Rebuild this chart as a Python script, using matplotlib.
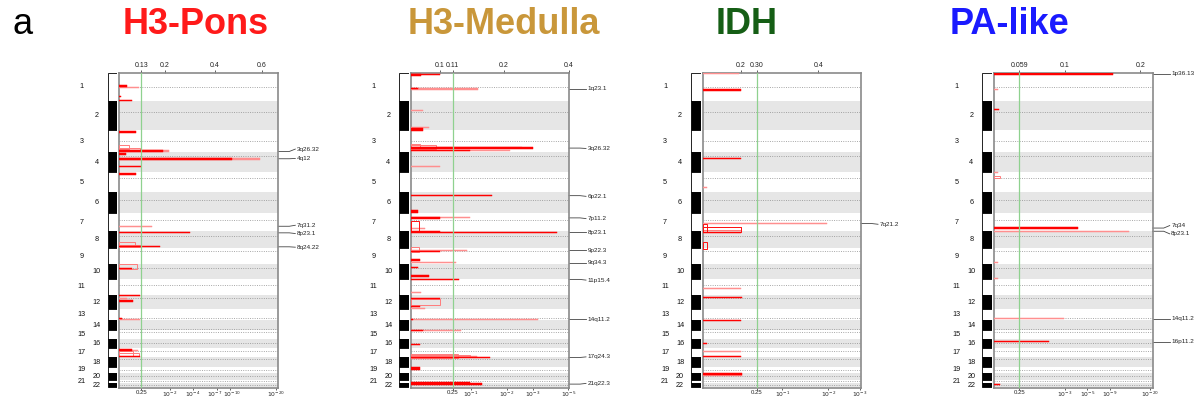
import matplotlib
matplotlib.use('Agg')
import matplotlib.pyplot as plt
from matplotlib.transforms import blended_transform_factory, ScaledTranslation

plt.rcParams['font.family'] = ['Liberation Sans', 'DejaVu Sans']

W, H = 1194, 400

# ---------------- data ----------------
chrom_names = [str(i) for i in range(1, 23)]
chrom_sizes = [28, 29.5, 22.5, 20, 20, 20.5, 18.5, 17, 15.7, 15, 16, 14.7,
               11, 9.3, 9, 9.3, 9.4, 10, 5.3, 7, 3, 5]
centromere_frac = [0.50, 0.38, 0.48, 0.18, 0.27, 0.35, 0.38, 0.26, 0.19, 0.29,
                   0.39, 0.20, 0.78, 0.89, 0.30, 0.46, 0.36, 0.13, 0.50, 0.52,
                   0.55, 0.40]

panel_titles = ['H3-Pons', 'H3-Medulla', 'IDH', 'PA-like']
panel_title_colors = ['#ff1a1a', '#c9973a', '#155e15', '#1a1aff']

# score segments: (genome position, band height, score on display scale 0-1, style)
# style: r = strong red, l = light red, o = light outline box, R = red outline box
pons_segments = [
    (14.6, 1.0, 0.126, 'l'), (13.3, 1.2, 0.046, 'r'), (24.0, 1.0, 0.010, 'r'),
    (28.0, 1.2, 0.078, 'r'), (59.6, 1.4, 0.105, 'r'),
    (75.0, 4.0, 0.060, 'o'), (76.6, 2.6, 0.130, 'o'),
    (78.8, 1.6, 0.314, 'l'), (78.9, 2.2, 0.277, 'r'), (81.6, 1.4, 0.040, 'r'),
    (86.6, 1.4, 0.885, 'l'), (86.6, 1.6, 0.707, 'r'),
    (94.0, 1.4, 0.134, 'r'), (101.6, 1.4, 0.105, 'r'),
    (154.0, 1.0, 0.204, 'l'), (160.6, 1.2, 0.445, 'r'),
    (171.5, 4.0, 0.100, 'o'), (173.5, 2.4, 0.130, 'o'), (174.6, 1.2, 0.256, 'r'),
    (194.5, 5.7, 0.109, 'o'), (196.6, 1.2, 0.078, 'r'),
    (223.3, 1.4, 0.130, 'r'), (226.3, 1.0, 0.046, 'l'), (229.0, 1.2, 0.088, 'r'),
    (246.6, 1.5, 0.020, 'r'), (248.0, 1.0, 0.130, 'l'),
    (278.0, 1.2, 0.078, 'r'), (279.0, 1.0, 0.120, 'l'),
    (281.5, 5.0, 0.088, 'o'), (283.0, 3.0, 0.126, 'o'), (284.6, 1.2, 0.130, 'r'),
]
medulla_segments = [
    (1.8, 1.4, 0.184, 'r'), (2.5, 2.5, 0.063, 'r'),
    (16.3, 1.2, 0.426, 'l'), (16.0, 1.6, 0.042, 'r'),
    (38.0, 1.2, 0.078, 'l'),
    (55.0, 1.0, 0.116, 'l'), (57.3, 3.0, 0.078, 'r'),
    (73.8, 5.0, 0.060, 'o'), (74.6, 3.4, 0.160, 'o'), (75.0, 1.2, 0.700, 'l'),
    (75.6, 1.4, 0.774, 'r'), (77.8, 1.2, 0.627, 'l'), (78.0, 1.4, 0.373, 'r'),
    (94.0, 1.2, 0.184, 'l'),
    (123.3, 1.2, 0.515, 'r'),
    (139.0, 3.0, 0.042, 'r'),
    (145.0, 1.0, 0.373, 'l'), (145.6, 1.4, 0.184, 'r'),
    (154.0, 10.0, 0.050, 'R'), (156.6, 1.0, 0.090, 'l'),
    (159.0, 1.2, 0.184, 'r'), (160.0, 1.2, 0.926, 'r'),
    (177.5, 5.0, 0.050, 'o'), (178.0, 1.0, 0.357, 'l'), (179.6, 1.2, 0.184, 'r'),
    (188.1, 1.7, 0.060, 'r'), (190.6, 1.0, 0.283, 'l'), (195.6, 1.2, 0.042, 'r'),
    (204.0, 1.5, 0.116, 'r'), (207.3, 1.2, 0.304, 'r'),
    (220.6, 1.0, 0.063, 'l'),
    (226.6, 1.2, 0.184, 'r'), (230.0, 6.5, 0.184, 'o'), (234.6, 1.2, 0.060, 'r'),
    (236.6, 1.0, 0.090, 'l'),
    (247.3, 1.3, 0.806, 'l'), (247.3, 1.3, 0.010, 'r'),
    (258.3, 1.2, 0.315, 'l'), (258.3, 1.2, 0.078, 'r'),
    (272.3, 1.2, 0.060, 'r'),
    (284.0, 3.3, 0.300, 'o'), (284.3, 2.0, 0.373, 'o'), (285.0, 1.0, 0.420, 'l'),
    (285.6, 1.2, 0.500, 'r'), (287.0, 1.0, 0.260, 'l'),
    (296.8, 2.4, 0.060, 'r'),
    (310.6, 1.2, 0.373, 'r'), (312.3, 1.5, 0.447, 'r'),
]
idh_segments = [
    (0.6, 2.0, 0.231, 'l'), (17.3, 1.2, 0.242, 'r'), (85.6, 1.0, 0.242, 'r'),
    (115.0, 1.0, 0.030, 'l'),
    (151.3, 1.0, 0.783, 'l'), (155.7, 8.7, 0.025, 'R'), (155.9, 2.7, 0.242, 'o'),
    (157.3, 5.4, 0.242, 'R'), (160.0, 1.2, 0.242, 'r'),
    (173.3, 6.6, 0.030, 'R'),
    (216.3, 1.0, 0.242, 'l'), (225.5, 1.8, 0.246, 'r'),
    (248.3, 1.0, 0.242, 'r'), (271.6, 1.0, 0.030, 'r'),
    (279.6, 1.0, 0.242, 'l'), (285.0, 1.2, 0.242, 'r'),
    (302.3, 1.6, 0.246, 'r'), (303.8, 1.0, 0.246, 'l'),
]
pa_segments = [
    (1.3, 2.0, 0.748, 'r'), (16.6, 1.0, 0.027, 'l'), (37.3, 1.2, 0.030, 'r'),
    (100.0, 1.0, 0.027, 'l'), (104.5, 2.3, 0.038, 'o'),
    (155.8, 1.6, 0.527, 'r'), (159.0, 1.2, 0.849, 'l'),
    (190.0, 1.0, 0.027, 'l'), (206.3, 1.0, 0.027, 'l'),
    (246.6, 1.2, 0.441, 'l'), (269.6, 1.2, 0.347, 'r'), (313.0, 1.2, 0.038, 'r'),
]

# peak labels: (cytoband, peak position, label position)
pons_peaks = [('3q26.32', 79.0, 76.6), ('4q12', 86.3, 86.0), ('7q31.2', 154.0, 153.0),
              ('8p23.1', 160.6, 161.3), ('8q24.22', 174.6, 175.0)]
medulla_peaks = [('1q23.1', 16.3, 16.3), ('3q26.32', 75.6, 76.0), ('6p22.1', 123.3, 124.0),
                 ('7p11.2', 145.6, 146.3), ('8p23.1', 160.0, 160.0), ('9p22.3', 178.3, 178.3),
                 ('9q34.3', 190.6, 190.6), ('11p15.4', 207.3, 208.0), ('14q11.2', 247.3, 247.3),
                 ('17q24.3', 285.6, 285.0), ('21q22.3', 312.3, 311.6)]
idh_peaks = [('7q21.2', 151.3, 152.0)]
pa_peaks = [('1p36.13', 1.3, 1.3), ('7q34', 155.8, 153.3), ('8p23.1', 159.0, 161.6),
            ('14q11.2', 246.6, 246.6), ('16p11.2', 269.6, 269.6)]

# axes ticks (display positions 0-1) and labels
pons_gscore_ticks = [0.138, 0.287, 0.602, 0.896]
pons_gscore_labels = ['0.13', '0.2', '0.4', '0.6']
pons_q_ticks = [0.138, 0.319, 0.465, 0.613, 0.696, 0.985]
pons_q_labels = ['0.25', '$10^{-2}$', '$10^{-4}$', '$10^{-7}$', '$10^{-10}$', '$10^{-20}$']
medulla_gscore_ticks = [0.182, 0.264, 0.589, 1.0]
medulla_gscore_labels = ['0.1', '0.11', '0.2', '0.4']
medulla_q_ticks = [0.264, 0.380, 0.606, 0.770, 0.996]
medulla_q_labels = ['0.25', '$10^{-1}$', '$10^{-2}$', '$10^{-3}$', '$10^{-5}$']
idh_gscore_ticks = [0.240, 0.341, 0.730]
idh_gscore_labels = ['0.2', '0.30', '0.4']
idh_q_ticks = [0.341, 0.503, 0.794, 0.994]
idh_q_labels = ['0.25', '$10^{-1}$', '$10^{-2}$', '$10^{-3}$']
pa_gscore_ticks = [0.158, 0.447, 0.922]
pa_gscore_labels = ['0.059', '0.1', '0.2']
pa_q_ticks = [0.158, 0.447, 0.588, 0.731, 0.983]
pa_q_labels = ['0.25', '$10^{-3}$', '$10^{-5}$', '$10^{-9}$', '$10^{-20}$']
q_threshold = [0.138, 0.264, 0.341, 0.158]   # q = 0.25 cut-off position

# ---------------- layout (pixels) ----------------
main_left = [119.3, 411.0, 702.7, 994.0]
main_right = [278.3, 569.0, 861.0, 1152.7]
top_px, bottom_px = 72.7, 387.5
title_cx = [196, 504, 747, 1009]

panels = [
    (pons_segments, pons_peaks, pons_gscore_ticks, pons_gscore_labels, pons_q_ticks, pons_q_labels),
    (medulla_segments, medulla_peaks, medulla_gscore_ticks, medulla_gscore_labels, medulla_q_ticks, medulla_q_labels),
    (idh_segments, idh_peaks, idh_gscore_ticks, idh_gscore_labels, idh_q_ticks, idh_q_labels),
    (pa_segments, pa_peaks, pa_gscore_ticks, pa_gscore_labels, pa_q_ticks, pa_q_labels),
]

style_map = {
    'l': dict(fill=True, color='#ff8f8f'),
    'o': dict(fill=False, color='#ff7b7b'),
    'R': dict(fill=False, color='#ff1010'),
    'r': dict(fill=True, color='#ff0000'),
}
style_order = {'l': 0, 'o': 1, 'R': 2, 'r': 3}

fig = plt.figure(figsize=(W / 100, H / 100), dpi=100)


def rect(l, r, t, b):
    return [l / W, 1 - b / H, (r - l) / W, (b - t) / H]


starts = []
acc = 0.0
for s in chrom_sizes:
    starts.append(acc)
    acc += s
genome_len = acc
centers = [st + s / 2 for st, s in zip(starts, chrom_sizes)]

for p, (segs, peaks, gt, gl, qt, ql) in enumerate(panels):
    L, R = main_left[p], main_right[p]
    wpx = R - L

    # ideogram
    axi = fig.add_axes(rect(L - 11.6, L - 2.0, top_px, bottom_px))
    cols = ['white' if i % 2 == 0 else 'black' for i in range(len(chrom_sizes))]
    axi.barh(centers, [1] * len(chrom_sizes), height=chrom_sizes, left=0,
             color=cols, edgecolor='black', linewidth=0.6)
    axi.set_xlim(0, 1)
    axi.set_ylim(genome_len, 0)
    axi.axis('off')
    tri = blended_transform_factory(axi.transAxes, axi.transData)
    for i, (nm, c) in enumerate(zip(chrom_names, centers)):
        xoff = -26 if i % 2 == 0 else -11
        axi.text(xoff / 9.6, c, nm, transform=tri, ha='center', va='center',
                 fontsize=5.2, color='#111111')

    # main plot
    ax = fig.add_axes(rect(L, R, top_px, bottom_px))
    ax.set_xlim(0, 1)
    ax.set_ylim(genome_len, 0)
    for i in range(len(chrom_sizes)):
        if i % 2 == 1:
            ax.axhspan(starts[i], starts[i] + chrom_sizes[i], color='#e6e6e6',
                       linewidth=0, zorder=0)
        ax.axhline(starts[i] + centromere_frac[i] * chrom_sizes[i], color='#8a8a8a',
                   linewidth=0.55, linestyle=(0, (1.2, 1.8)), zorder=1)
    ax.axvline(q_threshold[p], color='#8fd18f', linewidth=0.9, zorder=4)

    for (y, h, v, st) in sorted(segs, key=lambda s: style_order[s[3]]):
        sm = style_map[st]
        if sm['fill']:
            ax.barh(y, v, height=h, left=0, color=sm['color'], edgecolor=sm['color'],
                    linewidth=0.35, zorder=3)
        else:
            ax.barh(y, v, height=h, left=0, facecolor='none', edgecolor=sm['color'],
                    linewidth=0.7, zorder=3)

    for sp in ax.spines.values():
        sp.set_color('#8a8a8a')
        sp.set_linewidth(1.2)
    ax.set_yticks([])
    ax.tick_params(axis='x', bottom=False, labelbottom=False, top=True, labeltop=True,
                   length=2, width=0.5, pad=1, labelsize=5, colors='#222222')
    ax.set_xticks(gt)
    ax.set_xticklabels(gl)

    # bottom q-value axis: tick marks from the library, labels as text
    sec = ax.secondary_xaxis('bottom')
    sec.set_xticks(qt)
    sec.set_xticklabels([''] * len(qt))
    sec.tick_params(length=1.5, width=0.5, pad=0.5, colors='#222222')
    sec.spines['bottom'].set_visible(False)
    trb = blended_transform_factory(ax.transData, ax.transAxes)
    for k, (xv, lab) in enumerate(zip(qt, ql)):
        nudge = 0.0
        if k + 1 < len(qt) and (qt[k + 1] - xv) * wpx < 15:
            nudge = -2.5
        if k > 0 and (xv - qt[k - 1]) * wpx < 15:
            nudge = 2.5
        t = trb + ScaledTranslation(nudge / 100, 0, fig.dpi_scale_trans)
        ax.text(xv, -0.007, lab, transform=t, ha='center', va='top',
                fontsize=4.3, color='#222222', clip_on=False)

    # peak labels with leader lines
    tr = blended_transform_factory(ax.transAxes, ax.transData)
    for (name, py, ly) in peaks:
        ax.plot([1.0, 1.0 + 11 / wpx, 1.0 + 17 / wpx], [py, py, ly], transform=tr,
                color='#444444', linewidth=0.6, clip_on=False)
        ax.text(1.0 + 18.5 / wpx, ly, name, transform=tr, fontsize=4.6, va='center',
                ha='left', color='#222222')

    fig.text(title_cx[p] / W, 1 - 25 / H, panel_titles[p], color=panel_title_colors[p],
             fontsize=26, fontweight='bold', ha='center', va='center')

fig.text(12 / W, 1 - 24 / H, 'a', fontsize=26, ha='left', va='center', color='black')

fig.savefig('out.png', dpi=100)
